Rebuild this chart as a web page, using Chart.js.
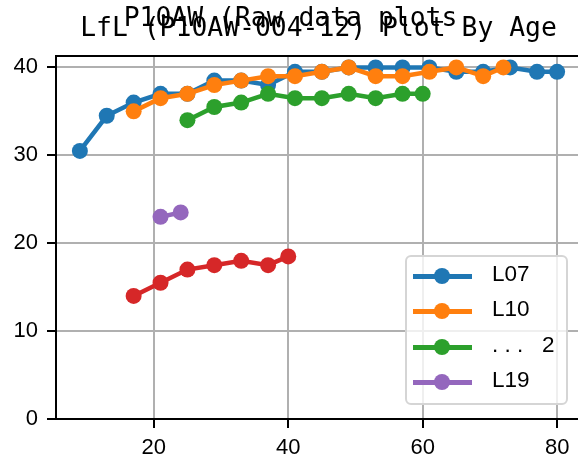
<!DOCTYPE html>
<html><head><meta charset="utf-8">
<script src="https://cdn.jsdelivr.net/npm/chart.js@4/dist/chart.umd.min.js"></script>
<style>
html,body{margin:0;padding:0;overflow:hidden;background:#fff;width:578px;height:462px}
#wrap{position:relative;width:578px;height:462px;overflow:hidden}
#inner{position:absolute;left:0;top:0;width:589px;height:462px}
canvas{display:block}
#legend{position:absolute;left:405px;top:255px;width:159px;height:146px;border:2px solid #d5d5d5;border-radius:6px;background:rgba(255,255,255,0.8)}
.item{position:absolute;left:0;width:159px;height:30px}
.ln{position:absolute;left:6px;top:13px;width:59px;height:4.5px}
.mk{position:absolute;left:27px;top:7px;width:16px;height:16px;border-radius:50%}
.tx{position:absolute;left:85px;top:0;line-height:30px;font:22.5px "Liberation Sans",Arial,sans-serif;color:#000;white-space:pre}
</style></head>
<body><div id="wrap"><div id="inner"><canvas id="c" width="589" height="462"></canvas></div><div id="legend"></div></div>
<script>
const figureTitle = 'P10AW (Raw data plots';
const axesTitle = 'LfL (P10AW-004-12) Plot By Age';
const xTicks = [20, 40, 60, 80];
const yTicks = [0, 10, 20, 30, 40];

const l07Age = [9, 13, 17, 21, 25, 29, 33, 37, 41, 45, 49, 53, 57, 61, 65, 69, 73, 77, 80];
const l07Val = [30.5, 34.5, 36, 37, 37, 38.5, 38.5, 38, 39.5, 39.5, 40, 40, 40, 40, 39.5, 39.5, 40, 39.5, 39.5];
const l10Age = [17, 21, 25, 29, 33, 37, 41, 45, 49, 53, 57, 61, 65, 69, 72];
const l10Val = [35, 36.5, 37, 38, 38.5, 39, 39, 39.5, 40, 39, 39, 39.5, 40, 39, 40];
const g2Age = [25, 29, 33, 37, 41, 45, 49, 53, 57, 60];
const g2Val = [34, 35.5, 36, 37, 36.5, 36.5, 37, 36.5, 37, 37];
const redAge = [17, 21, 25, 29, 33, 37, 40];
const redVal = [14, 15.5, 17, 17.5, 18, 17.5, 18.5];
const l19Age = [21, 24];
const l19Val = [23, 23.5];

const seriesLabels = ['L07', 'L10', '. . .   2', '', 'L19'];
const seriesColors = ['#1f77b4', '#ff7f0e', '#2ca02c', '#d62728', '#9467bd'];
const ages = [l07Age, l10Age, g2Age, redAge, l19Age];
const vals = [l07Val, l10Val, g2Val, redVal, l19Val];
const inLegend = [true, true, true, false, true];

const datasets = ages.map((a, i) => ({
  label: seriesLabels[i],
  data: a.map((x, j) => ({x: x, y: vals[i][j]})),
  borderColor: seriesColors[i],
  backgroundColor: seriesColors[i],
  borderWidth: 4.5,
  pointRadius: 8,
  pointHoverRadius: 8,
  pointBorderWidth: 0,
  tension: 0,
  order: 10 - i
}));

const framePlugin = {
  id: 'frame',
  afterDatasetsDraw(chart) {
    const {ctx, chartArea: a} = chart;
    ctx.save();
    ctx.strokeStyle = '#000';
    ctx.lineWidth = 2;
    ctx.strokeRect(a.left, a.top, a.right - a.left, a.bottom - a.top);
    ctx.restore();
  }
};

const tickFont = {family: '"Liberation Sans", Arial, sans-serif', size: 22};
const titleFont = {family: '"DejaVu Sans Mono", monospace', size: 26.4, weight: 'normal', lineHeight: '10px'};

const chart = new Chart(document.getElementById('c'), {
  type: 'line',
  data: {datasets},
  options: {
    responsive: false,
    animation: false,
    layout: {padding: {left: 0, right: 8, top: 0, bottom: 0}},
    plugins: {
      legend: {display: false},
      tooltip: {enabled: false},
      title: {display: true, fullSize: true, text: figureTitle, color: '#000', font: titleFont, padding: {top: 14, bottom: 0}},
      subtitle: {display: true, fullSize: false, text: axesTitle, color: '#000', font: titleFont, padding: {top: 0, bottom: 22}}
    },
    scales: {
      x: {
        type: 'linear', min: 5.45, max: 83.55,
        afterBuildTicks: s => { s.ticks = xTicks.map(v => ({value: v})); },
        afterFit: s => { s.height = 43; s.paddingLeft = 0; s.paddingRight = 0; },
        grid: {color: '#b0b0b0', lineWidth: 2, drawTicks: true, tickLength: 9, tickColor: '#000', tickWidth: 2},
        border: {display: false},
        ticks: {color: '#000', font: tickFont, padding: 7, maxRotation: 0, autoSkip: false}
      },
      y: {
        type: 'linear', min: 0, max: 41.3,
        afterBuildTicks: s => { s.ticks = yTicks.map(v => ({value: v})); },
        afterFit: s => { s.width = 56; s.paddingTop = 0; s.paddingBottom = 0; },
        grid: {color: '#b0b0b0', lineWidth: 2, drawTicks: true, tickLength: 9, tickColor: '#000', tickWidth: 2},
        border: {display: false},
        ticks: {color: '#000', font: tickFont, padding: 9, autoSkip: false}
      }
    }
  },
  plugins: [framePlugin]
});

// HTML legend built from the chart's datasets
const leg = document.getElementById('legend');
const rowCenters = [19, 54, 90, 125];
let r = 0;
chart.data.datasets.forEach((ds, i) => {
  if (!inLegend[i]) return;
  const it = document.createElement('div');
  it.className = 'item';
  it.style.top = (rowCenters[r] - 15) + 'px';
  it.innerHTML = '<div class="ln" style="background:' + ds.borderColor + '"></div>' +
    '<div class="mk" style="background:' + ds.borderColor + '"></div>' +
    '<div class="tx"></div>';
  it.querySelector('.tx').textContent = ds.label;
  leg.appendChild(it);
  r++;
});
</script>
</body></html>
